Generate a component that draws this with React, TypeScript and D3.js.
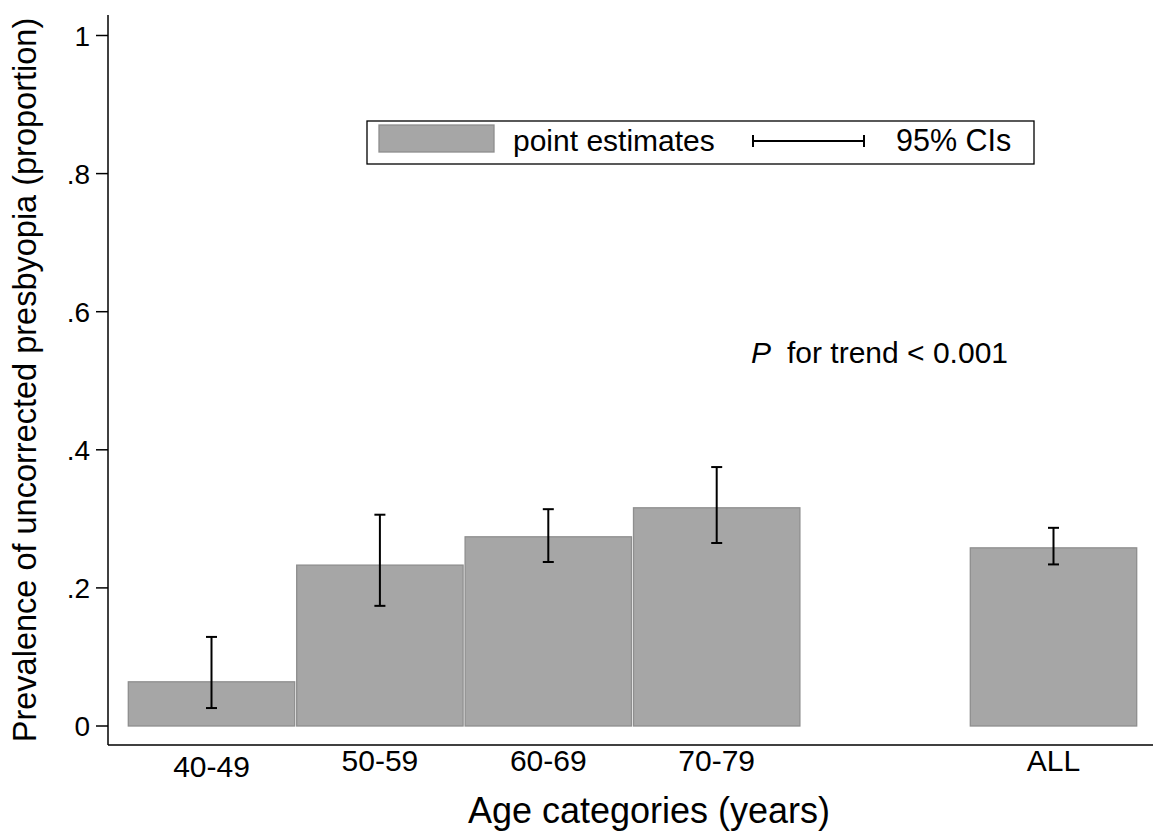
import React from 'react';
import * as d3 from 'd3';

// data
const categories = ['40-49', '50-59', '60-69', '70-79', 'ALL'];
const positions = [1, 2, 3, 4, 6];
const estimates = [0.064, 0.233, 0.274, 0.316, 0.258];
const ciLow = [0.026, 0.174, 0.2375, 0.265, 0.234];
const ciHigh = [0.129, 0.306, 0.314, 0.375, 0.287];
const yTicks = [0, 0.2, 0.4, 0.6, 0.8, 1];

const W = 1153;
const H = 840;
const font = '"Liberation Sans", Arial, Helvetica, sans-serif';
const barFill = '#a6a6a6';
const barStroke = '#8e8e8e';

const fmtTick = (v: number) => (v === 0 ? '0' : v === 1 ? '1' : d3.format('.1f')(v).replace(/^0/, ''));

export default function App() {
  const plotLeft = 108;
  const plotRight = 1153;
  const plotTop = 15;
  const plotBottom = 745;

  const y = d3.scaleLinear().domain([0, 1]).range([726, 35.5]);
  const x = d3.scaleLinear().domain([1, 6]).range([211.5, 1053.5]);
  const barW = x(1.5) - x(0.5);
  const cap = 5.5;

  return (
    <svg width={W} height={H} style={{ position: 'absolute', left: 0, top: 0, background: '#fff' }} fontFamily={font}>
      <rect width={W} height={H} fill="#fff" />

      {/* bars */}
      {positions.map((p, i) => (
        <rect
          key={categories[i]}
          x={x(p - 0.5) + 1}
          y={y(estimates[i])}
          width={barW - 2}
          height={y(0) - y(estimates[i])}
          fill={barFill}
          stroke={barStroke}
          strokeWidth={1.3}
        />
      ))}

      {/* error bars */}
      {positions.map((p, i) => (
        <g key={'ci' + i} stroke="#000" strokeWidth={2}>
          <line x1={x(p)} x2={x(p)} y1={y(ciLow[i])} y2={y(ciHigh[i])} />
          <line x1={x(p) - cap} x2={x(p) + cap} y1={y(ciLow[i])} y2={y(ciLow[i])} />
          <line x1={x(p) - cap} x2={x(p) + cap} y1={y(ciHigh[i])} y2={y(ciHigh[i])} />
        </g>
      ))}

      {/* y axis */}
      <line x1={plotLeft} x2={plotLeft} y1={plotTop} y2={plotBottom} stroke="#000" strokeWidth={1.5} />
      {yTicks.map((t) => (
        <g key={t}>
          <line x1={plotLeft - 12} x2={plotLeft} y1={y(t)} y2={y(t)} stroke="#000" strokeWidth={1.5} />
          <text x={plotLeft - 18} y={y(t)} dy="0.36em" textAnchor="end" fontSize={28}>
            {fmtTick(t)}
          </text>
        </g>
      ))}
      <text
        transform={`translate(36, ${(plotTop + plotBottom) / 2}) rotate(-90)`}
        textAnchor="middle"
        fontSize={32.5}
      >
        Prevalence of uncorrected presbyopia (proportion)
      </text>

      {/* x axis */}
      <line x1={plotLeft} x2={plotRight} y1={plotBottom} y2={plotBottom} stroke="#000" strokeWidth={1.5} />
      {positions.map((p, i) => (
        <text key={'xl' + i} x={x(p)} y={i === 0 ? 777 : 771} textAnchor="middle" fontSize={30}>
          {categories[i]}
        </text>
      ))}
      <text x={649} y={823} textAnchor="middle" fontSize={36}>
        Age categories (years)
      </text>

      {/* legend */}
      <rect x={367} y={121} width={667} height={43} fill="#fff" stroke="#000" strokeWidth={1.3} />
      <rect x={379} y={125} width={115} height={27} fill={barFill} stroke={barStroke} strokeWidth={1.3} />
      <text x={513} y={151} fontSize={30}>point estimates</text>
      <g stroke="#000" strokeWidth={2}>
        <line x1={753} x2={864} y1={141} y2={141} />
        <line x1={753} x2={753} y1={135} y2={147} />
        <line x1={864} x2={864} y1={135} y2={147} />
      </g>
      <text x={896} y={151} fontSize={30.5}>95% CIs</text>

      {/* annotation */}
      <text x={751} y={363} fontSize={30}>
        <tspan fontStyle="italic">P</tspan>
        <tspan dx={16}>for trend &lt; 0.001</tspan>
      </text>
    </svg>
  );
}
